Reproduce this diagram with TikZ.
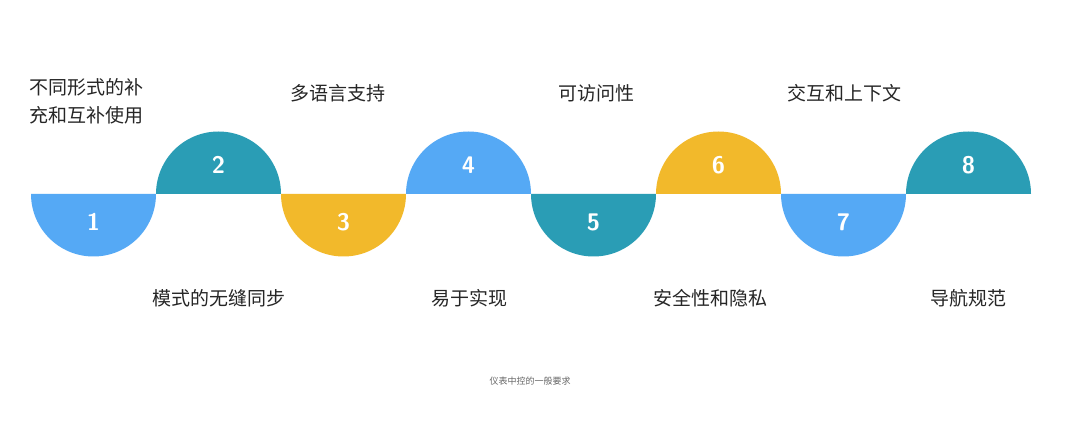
\documentclass[tikz,border=0pt]{standalone}
\usepackage{fontspec}
\newfontfamily\cjk{Noto Sans CJK SC}
\definecolor{cblue}{HTML}{55A9F5}
\definecolor{cteal}{HTML}{2A9DB5}
\definecolor{cyel}{HTML}{F2B92B}
\begin{document}
\begin{tikzpicture}[x=1pt,y=-1pt,
  num/.style={text=white,font=\sffamily\bfseries\fontsize{24}{28}\selectfont},
  lab/.style={font=\cjk\fontsize{19}{28}\selectfont,text=black!85}]
\useasboundingbox (0,0) rectangle (1080,438);
\fill[white] (0,0) rectangle (1080,438);
\foreach \i/\c in {1/cblue,3/cyel,5/cteal,7/cblue}{
  \fill[\c] ({31+125*(\i-1)},194) arc[start angle=180,end angle=0,radius=62.5] -- cycle;
  \node[num] (n\i) at ({93.5+125*(\i-1)},222) {\i};}
\foreach \i/\c in {2/cteal,4/cblue,6/cyel,8/cteal}{
  \fill[\c] ({31+125*(\i-1)},194) arc[start angle=180,end angle=360,radius=62.5] -- cycle;
  \node[num] (n\i) at ({93.5+125*(\i-1)},165) {\i};}
\node[lab,anchor=west,align=left] (t1) at (26,101) {不同形式的补\\充和互补使用};
\node[lab] (t2) at (338,93) {多语言支持};
\node[lab] (t3) at (596,93) {可访问性};
\node[lab] (t4) at (844,93) {交互和上下文};
\node[lab] (b1) at (219,298) {模式的无缝同步};
\node[lab] (b2) at (469,298) {易于实现};
\node[lab] (b3) at (710,298) {安全性和隐私};
\node[lab] (b4) at (968,298) {导航规范};
\node[font=\cjk\fontsize{9}{10}\selectfont,text=black!60] (cap) at (530,381) {仪表中控的一般要求};
\end{tikzpicture}
\end{document}
